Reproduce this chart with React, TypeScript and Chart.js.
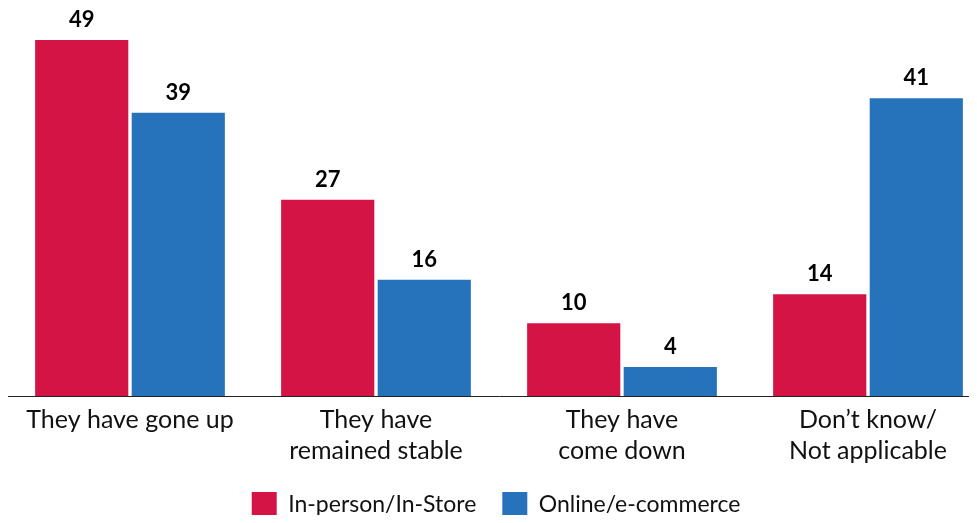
import React, { useEffect, useRef } from "react";
import { Chart, registerables } from "chart.js";

Chart.register(...registerables);

const categories: string[][] = [
  ["They have gone up"],
  ["They have", "remained stable"],
  ["They have", "come down"],
  ["Don’t know/", "Not applicable"],
];
const inPersonValues = [49, 27, 10, 14];
const onlineValues = [39, 16, 4, 41];
const seriesNames = ["In-person/In-Store", "Online/e-commerce"];
const seriesColors = ["#D31444", "#2773BB"];

const FONT = "Lato, 'Noto Sans', sans-serif";

const dataLabelPlugin = {
  id: "dataLabels",
  afterDatasetsDraw(chart: any) {
    const ctx = chart.ctx;
    ctx.save();
    ctx.font = `bold 22px ${FONT}`;
    ctx.fillStyle = "#000";
    ctx.textAlign = "center";
    ctx.textBaseline = "alphabetic";
    chart.data.datasets.forEach((ds: any, di: number) => {
      const meta = chart.getDatasetMeta(di);
      meta.data.forEach((bar: any, i: number) => {
        ctx.fillText(String(ds.data[i]), bar.x, bar.y - 13);
      });
    });
    ctx.restore();
  },
};

export default function App() {
  const ref = useRef<HTMLCanvasElement>(null);
  useEffect(() => {
    if (!ref.current) return;
    const chart = new Chart(ref.current, {
      type: "bar",
      data: {
        labels: categories,
        datasets: [
          {
            label: seriesNames[0],
            data: inPersonValues,
            backgroundColor: seriesColors[0],
            categoryPercentage: 0.785,
            barPercentage: 0.965,
          },
          {
            label: seriesNames[1],
            data: onlineValues,
            backgroundColor: seriesColors[1],
            categoryPercentage: 0.785,
            barPercentage: 0.965,
          },
        ],
      },
      options: {
        responsive: false,
        animation: false,
        layout: { padding: { top: 3, left: 0, right: 0, bottom: 0 } },
        plugins: {
          tooltip: { enabled: false },
          legend: {
            position: "bottom",
            labels: {
              boxWidth: 25,
              boxHeight: 25,
              padding: 26,
              color: "#111",
              font: { family: FONT, size: 23 },
              generateLabels(c: any) {
                const items = Chart.defaults.plugins.legend.labels.generateLabels(c);
                return items.map((it: any, i: number) => ({
                  ...it,
                  text: i === items.length - 1 ? it.text + " " : it.text,
                  lineWidth: 0,
                }));
              },
            },
          },
        },
        scales: {
          x: {
            grid: { display: false, drawTicks: false },
            border: { display: true, color: "#222", width: 1 },
            ticks: {
              color: "#111",
              padding: 8.5,
              maxRotation: 0,
              autoSkip: false,
              font: { family: FONT, size: 25, lineHeight: 1.24 },
            },
            afterFit(scale: any) {
              scale.height = 70;
            },
          },
          y: {
            display: false,
            min: 0,
            max: 53,
          },
        },
      },
      plugins: [dataLabelPlugin],
    });
    return () => chart.destroy();
  }, []);
  return (
    <div style={{ width: 969, height: 515, overflow: "hidden", marginBottom: -8 }}>
      <canvas ref={ref} width={984} height={519} style={{ display: "block", marginLeft: -1, width: 984, height: 519 }} />
    </div>
  );
}
